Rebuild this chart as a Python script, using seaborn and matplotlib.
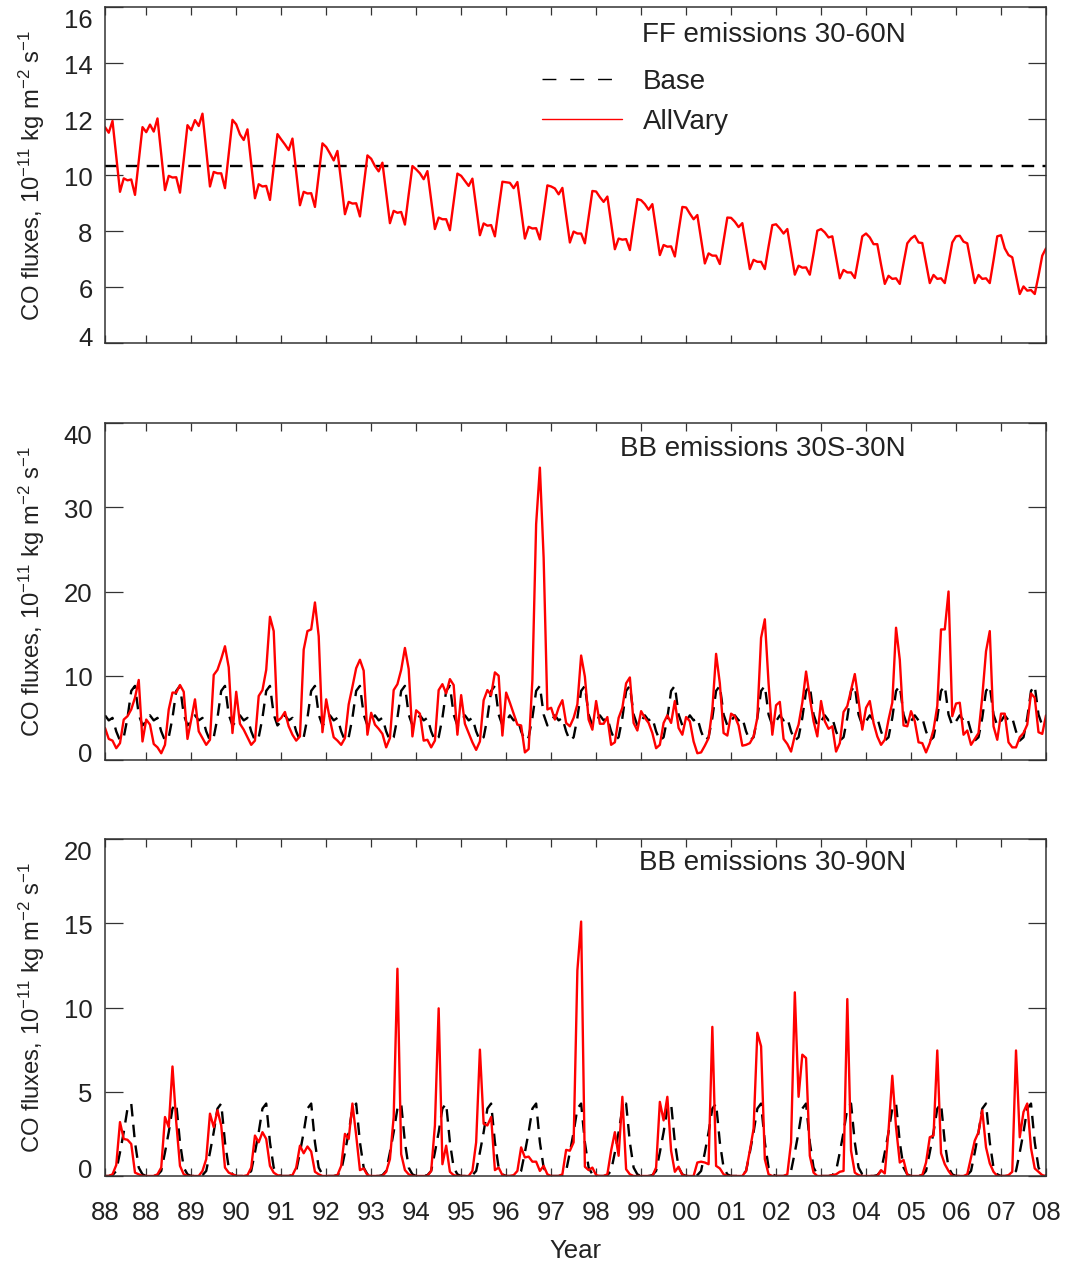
import numpy as np
import pandas as pd
import matplotlib
matplotlib.use("Agg")
import matplotlib.pyplot as plt
import seaborn as sns
from matplotlib.lines import Line2D
from matplotlib.transforms import ScaledTranslation

# ---------------------------------------------------------------------------
# Monthly CO fluxes (10^-11 kg m^-2 s^-1), Jan 1988 .. Dec 2008
# ---------------------------------------------------------------------------
n_years = 21
months = np.arange(12 * n_years)

# Fossil-fuel emissions 30-60N, AllVary run (one row per year, Jan..Dec)
ff_allvary = [
    11.71, 11.51, 11.93, 10.65, 9.40, 9.88, 9.81, 9.84, 9.29, 10.50, 11.71, 11.53,
    11.80, 11.55, 12.02, 10.75, 9.46, 9.97, 9.91, 9.92, 9.37, 10.55, 11.78, 11.60,
    11.96, 11.75, 12.19, 10.90, 9.59, 10.11, 10.06, 10.06, 9.53, 10.75, 11.97, 11.81,
    11.45, 11.25, 11.63, 10.40, 9.17, 9.67, 9.59, 9.61, 9.11, 10.30, 11.46, 11.27,
    11.09, 10.89, 11.30, 10.10, 8.92, 9.40, 9.34, 9.35, 8.86, 10.00, 11.13, 11.00,
    10.77, 10.52, 10.86, 9.75, 8.60, 9.04, 8.98, 8.99, 8.52, 9.60, 10.70, 10.58,
    10.32, 10.13, 10.44, 9.35, 8.28, 8.72, 8.65, 8.68, 8.23, 9.30, 10.32, 10.20,
    10.06, 9.85, 10.14, 9.10, 8.07, 8.48, 8.42, 8.42, 8.03, 9.05, 10.05, 9.97,
    9.79, 9.61, 9.87, 8.85, 7.85, 8.27, 8.19, 8.21, 7.81, 8.80, 9.76, 9.74,
    9.72, 9.53, 9.75, 8.75, 7.73, 8.15, 8.09, 8.10, 7.70, 8.65, 9.63, 9.59,
    9.52, 9.31, 9.54, 8.55, 7.59, 7.98, 7.91, 7.91, 7.56, 8.50, 9.43, 9.41,
    9.21, 9.04, 9.23, 8.30, 7.35, 7.73, 7.69, 7.71, 7.32, 8.25, 9.14, 9.10,
    8.96, 8.76, 8.96, 8.05, 7.14, 7.50, 7.44, 7.45, 7.09, 8.00, 8.86, 8.84,
    8.62, 8.42, 8.57, 7.70, 6.84, 7.20, 7.12, 7.12, 6.82, 7.65, 8.48, 8.47,
    8.33, 8.14, 8.28, 7.45, 6.64, 6.97, 6.90, 6.90, 6.64, 7.45, 8.21, 8.24,
    8.09, 7.91, 8.07, 7.25, 6.44, 6.76, 6.69, 6.70, 6.44, 7.20, 8.01, 8.07,
    7.95, 7.77, 7.81, 7.05, 6.31, 6.61, 6.52, 6.52, 6.32, 7.05, 7.81, 7.91,
    7.77, 7.53, 7.53, 6.80, 6.11, 6.40, 6.29, 6.31, 6.11, 6.85, 7.56, 7.73,
    7.83, 7.59, 7.57, 6.85, 6.14, 6.43, 6.29, 6.31, 6.14, 6.85, 7.59, 7.81,
    7.83, 7.62, 7.56, 6.85, 6.14, 6.43, 6.29, 6.31, 6.14, 6.95, 7.81, 7.85,
    7.38, 7.14, 7.06, 6.40, 5.75, 6.02, 5.87, 5.89, 5.75, 6.40, 7.12, 7.38,
]
# Base run keeps fossil-fuel emissions fixed
ff_base_level = 10.32

# Biomass burning 30S-30N, AllVary run
trop_allvary = [
    3.8, 2.5, 2.3, 1.4, 2.0, 4.8, 5.2, 6.0, 7.4, 9.5, 2.2, 4.8,
    4.2, 1.9, 1.5, 0.8, 1.8, 6.0, 8.0, 8.0, 8.9, 8.1, 2.5, 4.8,
    7.2, 3.4, 2.6, 1.8, 2.4, 10.1, 10.7, 12.0, 13.5, 11.0, 3.2, 8.1,
    4.3, 3.6, 2.7, 1.8, 2.3, 7.6, 8.3, 10.7, 17.0, 15.3, 4.6, 5.0,
    5.7, 4.0, 3.0, 2.3, 2.8, 13.1, 15.3, 15.5, 18.7, 14.7, 3.3, 7.2,
    4.8, 2.7, 2.3, 1.8, 2.6, 6.6, 8.7, 10.9, 11.9, 10.6, 3.0, 5.6,
    4.2, 3.7, 3.1, 1.5, 2.6, 8.3, 9.0, 10.7, 13.3, 10.8, 2.8, 5.9,
    5.5, 2.3, 2.4, 1.5, 2.3, 8.3, 9.0, 7.9, 9.6, 8.9, 3.0, 7.7,
    4.3, 3.2, 2.1, 1.2, 2.2, 7.1, 8.3, 7.7, 10.4, 10.0, 2.9, 8.0,
    6.8, 5.5, 4.2, 4.1, 0.9, 1.3, 9.5, 28.0, 34.7, 24.0, 6.0, 6.2,
    4.8, 6.2, 7.1, 4.4, 4.0, 5.0, 6.6, 12.4, 9.9, 4.8, 3.6, 7.0,
    4.3, 4.3, 5.1, 1.8, 2.1, 5.0, 6.2, 9.1, 9.8, 4.4, 3.5, 5.8,
    5.0, 4.4, 3.2, 1.4, 1.8, 4.4, 5.3, 4.4, 7.0, 3.8, 3.0, 5.1,
    4.6, 2.2, 0.8, 0.9, 1.7, 2.6, 6.0, 12.6, 9.1, 3.2, 2.9, 5.5,
    5.2, 4.1, 1.7, 1.8, 2.0, 2.8, 5.0, 14.5, 16.7, 9.1, 3.0, 6.5,
    6.9, 2.5, 1.9, 1.0, 2.9, 4.2, 6.8, 10.5, 7.4, 4.6, 2.8, 7.0,
    4.6, 3.7, 4.0, 1.0, 2.0, 5.7, 6.4, 8.3, 10.2, 7.1, 3.6, 6.2,
    7.0, 4.4, 2.8, 1.8, 2.4, 4.8, 6.8, 15.7, 11.9, 4.1, 4.0, 5.8,
    4.6, 2.1, 2.0, 0.9, 2.0, 3.6, 6.4, 15.5, 15.5, 20.0, 5.2, 6.7,
    6.8, 3.0, 3.5, 1.8, 2.5, 3.2, 7.5, 12.9, 15.3, 4.0, 2.4, 5.5,
    5.5, 2.1, 1.5, 1.5, 2.7, 3.2, 4.2, 7.9, 7.4, 3.3, 3.1, 5.3,
]
# Base run: climatological seasonal cycle (Jan..Dec), repeated every year
trop_base_clim = [5.3, 4.7, 5.0, 3.4, 2.3, 2.7, 5.0, 8.2, 8.8, 5.4, 4.1, 4.6]

# Biomass burning 30-90N, AllVary run
nh_allvary = [
    0.0, 0.0, 0.1, 0.65, 3.2, 2.2, 2.15, 1.9, 0.2, 0.1, 0.0, 0.0,
    0.0, 0.0, 0.1, 0.5, 3.5, 2.9, 6.5, 3.2, 0.6, 0.1, 0.0, 0.0,
    0.0, 0.0, 0.3, 1.0, 3.7, 2.9, 3.9, 3.0, 0.5, 0.2, 0.1, 0.0,
    0.0, 0.0, 0.05, 0.5, 2.4, 2.0, 2.6, 2.2, 0.6, 0.2, 0.05, 0.0,
    0.0, 0.0, 0.05, 0.5, 1.8, 1.35, 1.75, 1.45, 0.25, 0.1, 0.0, 0.0,
    0.0, 0.0, 0.05, 0.6, 2.5, 2.2, 4.3, 2.4, 0.35, 0.45, 0.05, 0.0,
    0.0, 0.0, 0.0, 0.25, 1.0, 3.5, 12.3, 1.3, 0.35, 0.1, 0.0, 0.0,
    0.0, 0.0, 0.0, 0.3, 3.0, 9.95, 0.7, 1.8, 0.25, 0.05, 0.0, 0.0,
    0.0, 0.0, 0.3, 2.0, 7.5, 3.1, 3.0, 3.5, 0.35, 0.5, 0.05, 0.0,
    0.0, 0.05, 0.3, 1.7, 1.1, 1.15, 0.85, 0.85, 0.3, 0.6, 0.1, 0.0,
    0.0, 0.0, 0.1, 1.55, 1.5, 2.0, 12.2, 15.1, 0.55, 0.35, 0.5, 0.05,
    0.0, 0.0, 0.1, 1.5, 2.6, 1.2, 4.7, 0.4, 0.1, 0.0, 0.0, 0.0,
    0.0, 0.0, 0.0, 0.5, 4.4, 3.3, 4.7, 1.5, 0.25, 0.55, 0.05, 0.0,
    0.0, 0.0, 0.8, 0.85, 0.8, 0.7, 8.85, 0.6, 0.45, 0.1, 0.0, 0.0,
    0.0, 0.0, 0.0, 0.3, 1.5, 2.8, 8.5, 7.7, 1.0, 0.1, 0.0, 0.0,
    0.0, 0.0, 0.1, 2.0, 10.9, 4.7, 7.2, 7.0, 1.2, 0.2, 0.0, 0.0,
    0.0, 0.0, 0.05, 0.1, 0.25, 0.3, 10.5, 1.5, 0.2, 0.05, 0.0, 0.0,
    0.0, 0.0, 0.0, 0.35, 0.15, 2.7, 5.95, 2.9, 0.8, 0.95, 0.05, 0.0,
    0.0, 0.0, 0.05, 0.8, 2.3, 2.4, 7.45, 1.35, 0.7, 0.3, 0.0, 0.0,
    0.0, 0.0, 0.1, 1.1, 2.1, 2.6, 3.9, 1.7, 0.75, 0.25, 0.0, 0.0,
    0.0, 0.05, 0.25, 7.45, 2.3, 3.8, 4.3, 1.65, 0.45, 0.25, 0.05, 0.0,
]
nh_base_clim = [0.0, 0.0, 0.05, 0.3, 1.4, 2.6, 4.0, 4.3, 2.0, 0.5, 0.1, 0.0]

# Year ticks: start of record, then every December
tick_months = [0] + [11 + 12 * k for k in range(n_years)]
tick_labels = ["88", "88", "89", "90", "91", "92", "93", "94", "95", "96", "97",
               "98", "99", "00", "01", "02", "03", "04", "05", "06", "07", "08"]

ylabel = r"CO fluxes, 10$^{-11}$ kg m$^{-2}$ s$^{-1}$"

# ---------------------------------------------------------------------------
sns.set_theme(style="ticks")
plt.rcParams["font.family"] = ["Liberation Sans", "DejaVu Sans"]
plt.rcParams["mathtext.fontset"] = "custom"
plt.rcParams["mathtext.rm"] = "Liberation Sans"
plt.rcParams["mathtext.it"] = "Liberation Sans:italic"
plt.rcParams["mathtext.bf"] = "Liberation Sans:bold"
plt.rcParams["lines.scale_dashes"] = False

text_color = "#222222"
axis_color = "#333333"

W, H = 1067, 1264
fig = plt.figure(figsize=(W / 100, H / 100), dpi=100)


def add_panel(top_px, bottom_px):
    return fig.add_axes([105 / W, 1 - bottom_px / H, 941 / W, (bottom_px - top_px) / H])


def draw_panel(ax, allvary, base, ylim, yticks, title, title_y):
    frame = pd.DataFrame({
        "month": np.concatenate([months, months]),
        "flux": np.concatenate([np.asarray(base, float), np.asarray(allvary, float)]),
        "run": ["Base"] * len(months) + ["AllVary"] * len(months),
    })
    sns.lineplot(data=frame, x="month", y="flux", hue="run", style="run",
                 hue_order=["Base", "AllVary"], style_order=["Base", "AllVary"],
                 palette={"Base": "black", "AllVary": "#ff0000"},
                 dashes={"Base": (9, 6), "AllVary": ""},
                 linewidth=1.7, estimator=None, sort=False, legend=False, ax=ax)
    ax.set_xlim(months[0], months[-1])
    ax.set_ylim(*ylim)
    ax.set_yticks(yticks)
    ax.set_yticklabels([str(v) for v in yticks])
    ax.set_xticks(tick_months)
    ax.set_xticklabels(tick_labels)
    ax.tick_params(axis="x", direction="in", length=6, width=0.9, top=True, bottom=True,
                   color=axis_color, labelcolor=text_color, labelsize=18.5, pad=18)
    ax.tick_params(axis="y", direction="in", length=13, width=0.9, left=True, right=True,
                   color=axis_color, labelcolor=text_color, labelsize=18.5, pad=9)
    for side in ax.spines.values():
        side.set_color(axis_color)
        side.set_linewidth(1.1)
    ax.set_xlabel("")
    ax.set_ylabel(ylabel, fontsize=17.2, color=text_color)
    ax.yaxis.set_label_coords(-0.062, 0.5)
    ax.text(0.851, title_y, title, transform=ax.transAxes, ha="right", va="center",
            fontsize=20, color=text_color)
    # end labels sit inside the axis range
    labels = ax.get_yticklabels()
    for i, lab in enumerate(labels):
        if i == 0:
            dy = 7
        elif i == len(labels) - 1:
            dy = -12
        else:
            dy = -1
        lab.set_transform(lab.get_transform() + ScaledTranslation(0, dy / 100, fig.dpi_scale_trans))


ax1 = add_panel(7, 343)
draw_panel(ax1, ff_allvary, np.full(len(months), ff_base_level), (4, 16),
           [4, 6, 8, 10, 12, 14, 16], "FF emissions 30-60N", 0.918)
ax1.tick_params(axis="x", labelbottom=False)
legend_handles = [Line2D([], [], color="black", lw=1.0, dashes=(10, 10)),
                  Line2D([], [], color="#ff0000", lw=1.0)]
ax1.legend(legend_handles, ["Base", "AllVary"], loc="upper left",
           bbox_to_anchor=(0.4644, 0.815), frameon=False, fontsize=20,
           handlelength=2.88, handletextpad=0.75, labelspacing=0.5,
           borderpad=0, borderaxespad=0, labelcolor=text_color)

ax2 = add_panel(423, 760)
draw_panel(ax2, trop_allvary, np.tile(trop_base_clim, n_years), (0, 40),
           [0, 10, 20, 30, 40], "BB emissions 30S-30N", 0.922)
ax2.tick_params(axis="x", labelbottom=False)

ax3 = add_panel(839, 1176)
draw_panel(ax3, nh_allvary, np.tile(nh_base_clim, n_years), (0, 20),
           [0, 5, 10, 15, 20], "BB emissions 30-90N", 0.928)
ax3.set_xlabel("Year", fontsize=18.5, color=text_color)
ax3.xaxis.set_label_coords(0.5, -0.186)

fig.savefig("out.png", dpi=100)
